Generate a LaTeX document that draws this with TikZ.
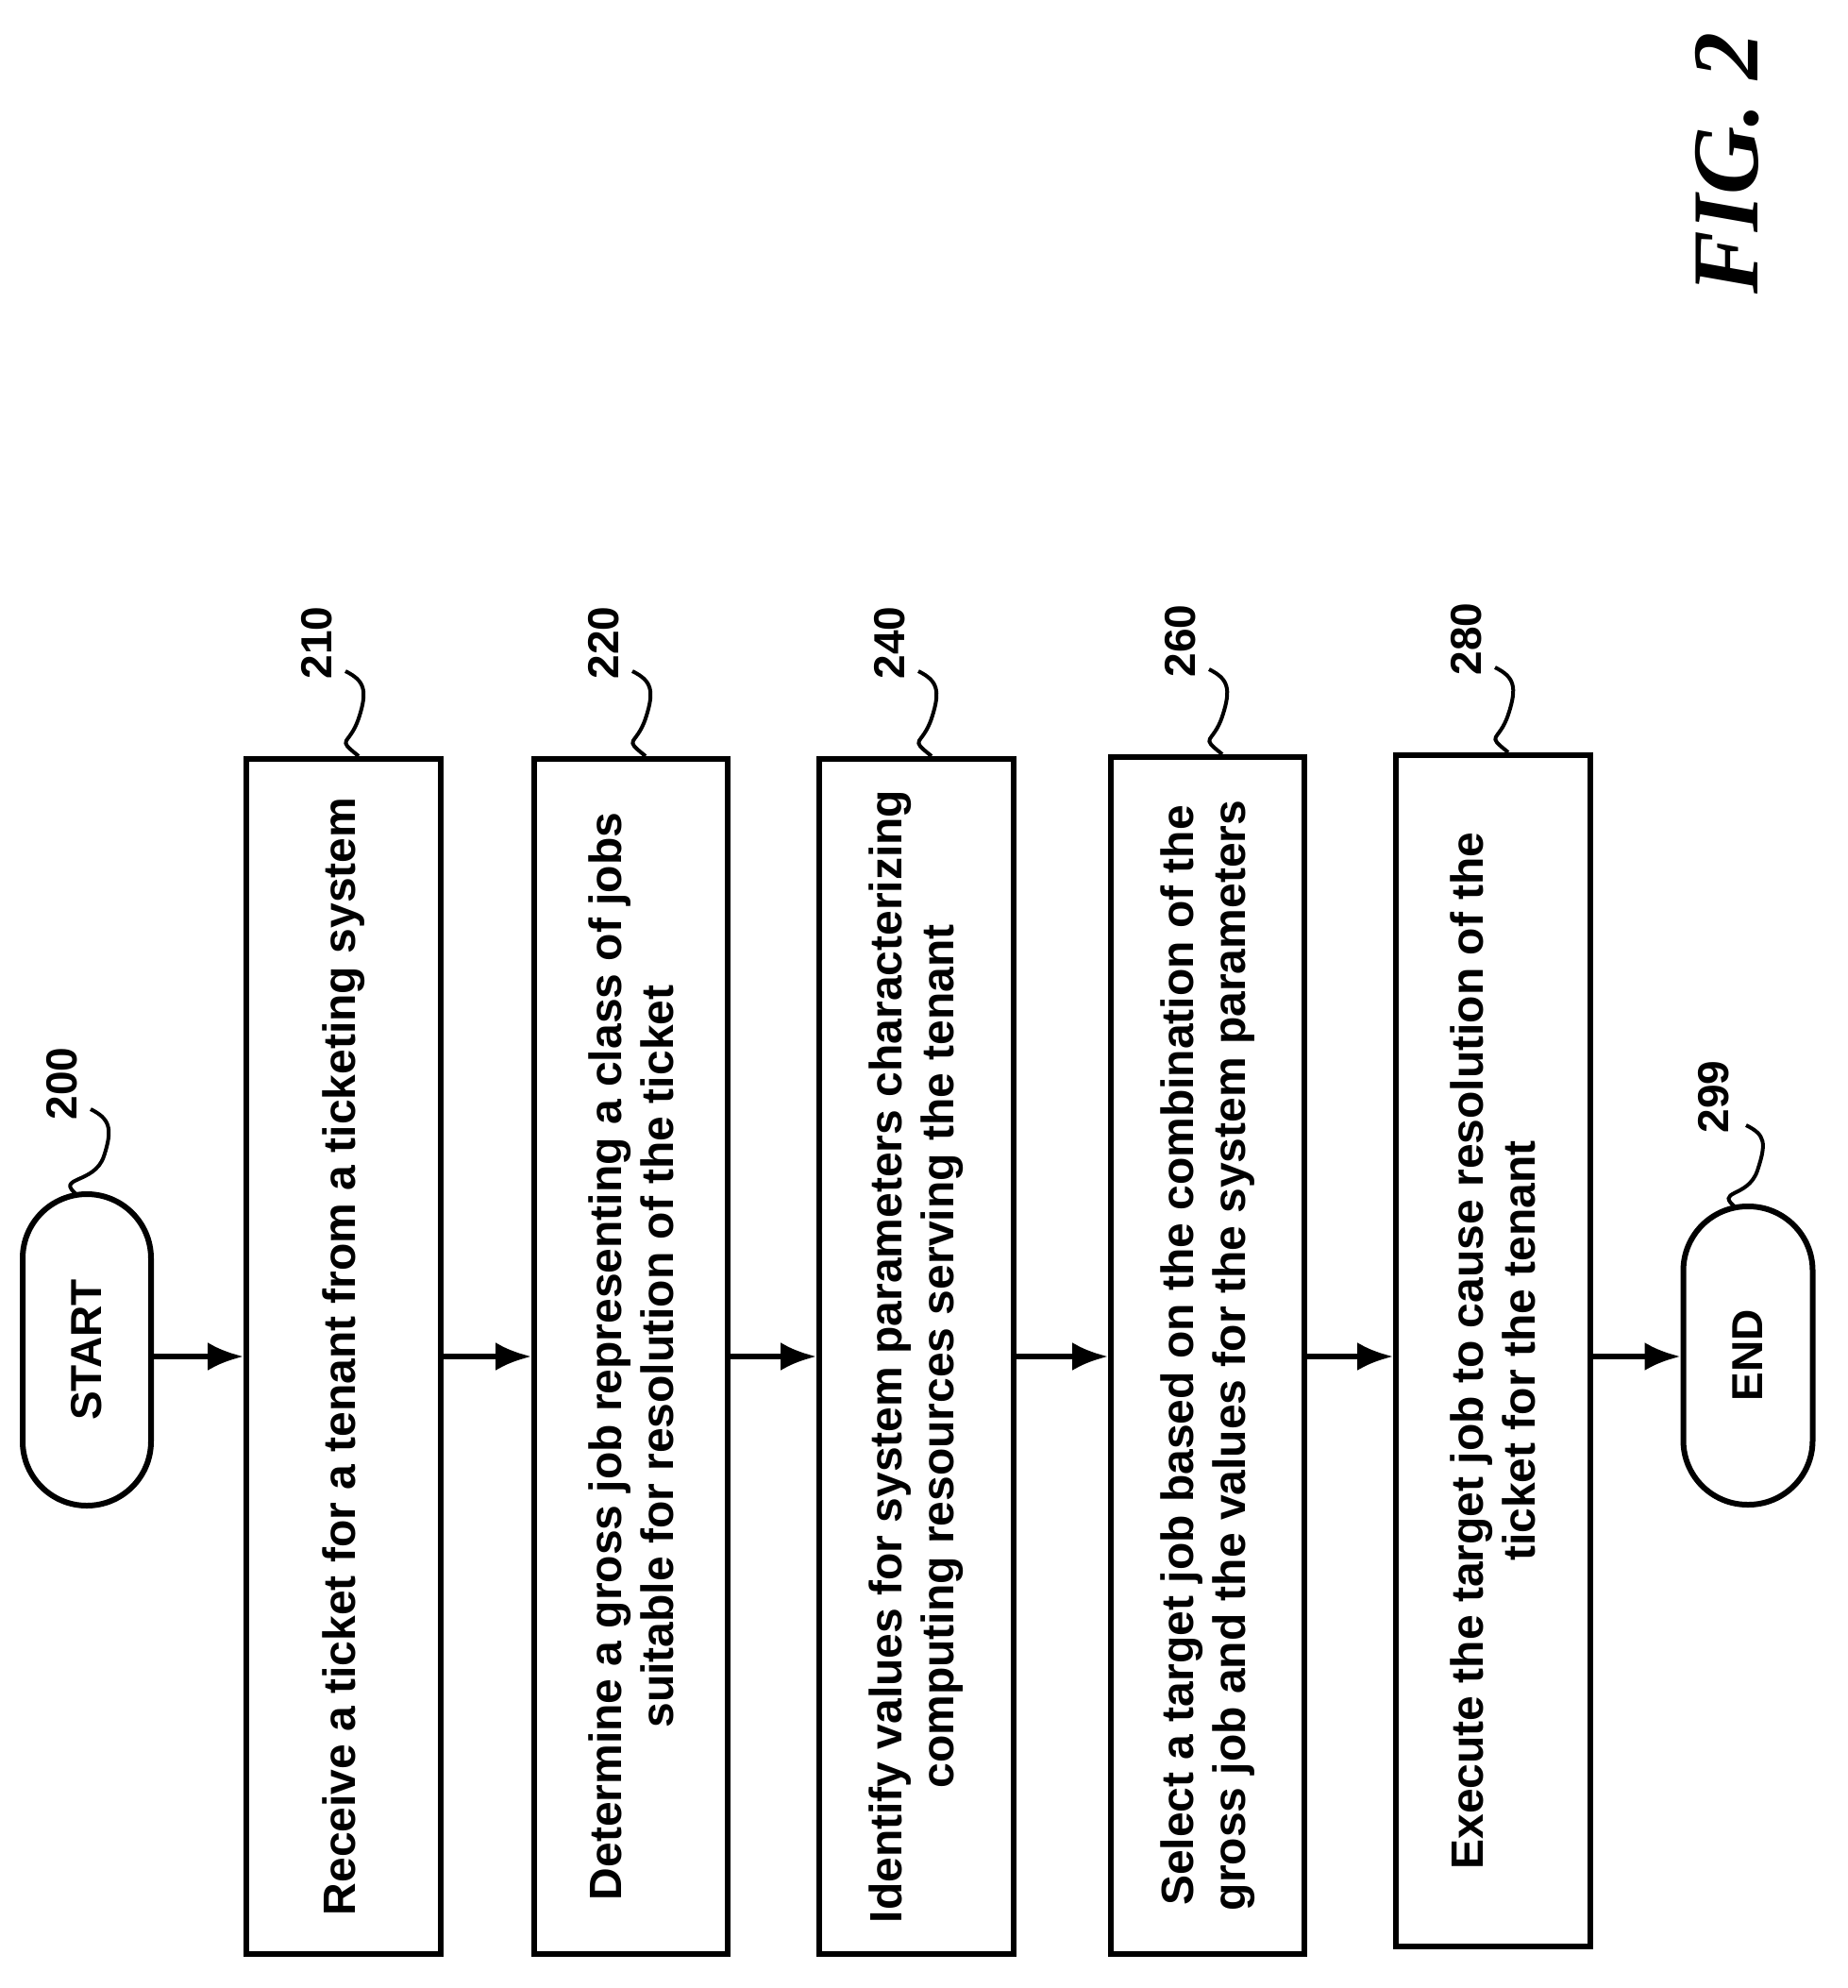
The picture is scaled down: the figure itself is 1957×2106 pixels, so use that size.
\documentclass[tikz,border=0pt]{standalone}
\usepackage{fontspec}
\usetikzlibrary{arrows.meta}
\setmainfont{Liberation Sans}
\newfontfamily\figfont{Liberation Serif}
\begin{document}
\begin{tikzpicture}[x=1pt,y=-1pt,
  box/.style={draw,line width=6pt,rectangle},
  txt/.style={rotate=90,align=center,font=\fontsize{48}{55}\selectfont\bfseries,inner sep=0},
  lab/.style={rotate=90,font=\fontsize{46}{50}\selectfont\bfseries,inner sep=0},
  arr/.style={line width=6pt,-{Latex[length=38pt,width=30pt]}},
  sq/.style={line width=4pt}]
\useasboundingbox (0,0) rectangle (1957,2106);
% start
\node[draw,line width=6pt,rounded corners=68pt,minimum width=136pt,minimum height=330pt,inner sep=0] (start) at (92,1430) {};
\node[lab] (startt) at (92,1430) {START};
\node[draw,line width=6pt,rounded corners=68pt,minimum width=137pt,minimum height=316pt,inner sep=0] (end) at (1852,1436) {};
\node[lab] (endt) at (1852,1436) {END};
% boxes
\foreach \n/\l/\r/\t/\b in {b1/261/467/804/2070,b2/566/771/804/2070,b3/868/1074/804/2070,b4/1177/1382/802/2070,b5/1479/1685/800/2062}{
  \node[box,minimum width={(\r-\l)*1pt},minimum height={(\b-\t)*1pt},inner sep=0] (\n) at ({(\l+\r)/2},{(\t+\b)/2}) {};
}
\node[txt] at (b1) {Receive a ticket for a tenant from a ticketing system};
\node[txt] at (b2) {Determine a gross job representing a class of jobs\\suitable for resolution of the ticket};
\node[txt] at (b3) {Identify values for system parameters characterizing\\computing resources serving the tenant};
\node[txt] at (b4) {Select a target job based on the combination of the\\gross job and the values for the system parameters};
\node[txt] at (b5) {Execute the target job to cause resolution of the\\ticket for the tenant};
% arrows
\draw[arr] (start.east |- 0,1437) -- (b1.west |- 0,1437);
\draw[arr] (b1.east |- 0,1437) -- (b2.west |- 0,1437);
\draw[arr] (b2.east |- 0,1437) -- (b3.west |- 0,1437);
\draw[arr] (b3.east |- 0,1437) -- (b4.west |- 0,1437);
\draw[arr] (b4.east |- 0,1437) -- (b5.west |- 0,1437);
\draw[arr] (b5.east |- 0,1437) -- (end.west |- 0,1437);
% labels
\foreach \n/\lab in {b1/210,b2/220,b3/240,b4/260,b5/280}{
  \coordinate (e\n) at ([xshift=-90pt]\n.north east);
  \node[lab] (l\n) at ([xshift=-134pt,yshift=120pt]\n.north east) {\lab};
  \draw[sq] ([xshift=-104pt,yshift=90pt]\n.north east) .. controls +(20,10) and +(10,-30) .. ([xshift=-90pt,yshift=40pt]\n.north east) .. controls +(-10,30) and +(-25,-20) .. (e\n);
}
\coordinate (es) at (82,1266);
\node[lab] (ls) at (66,1148) {200};
\draw[sq] (96,1175) .. controls +(20,10) and +(10,-30) .. (110,1225) .. controls +(-10,30) and +(-25,-20) .. (es);
\coordinate (ee) at (1840,1280);
\node[lab] (le) at (1816,1162) {299};
\draw[sq] (1850,1192) .. controls +(20,10) and +(10,-30) .. (1862,1240) .. controls +(-10,30) and +(-25,-20) .. (ee);
\node[rotate=90,font=\fontsize{100}{110}\selectfont\figfont\bfseries\itshape] (fig) at (1830,173) {FIG. 2};
\end{tikzpicture}
\end{document}
